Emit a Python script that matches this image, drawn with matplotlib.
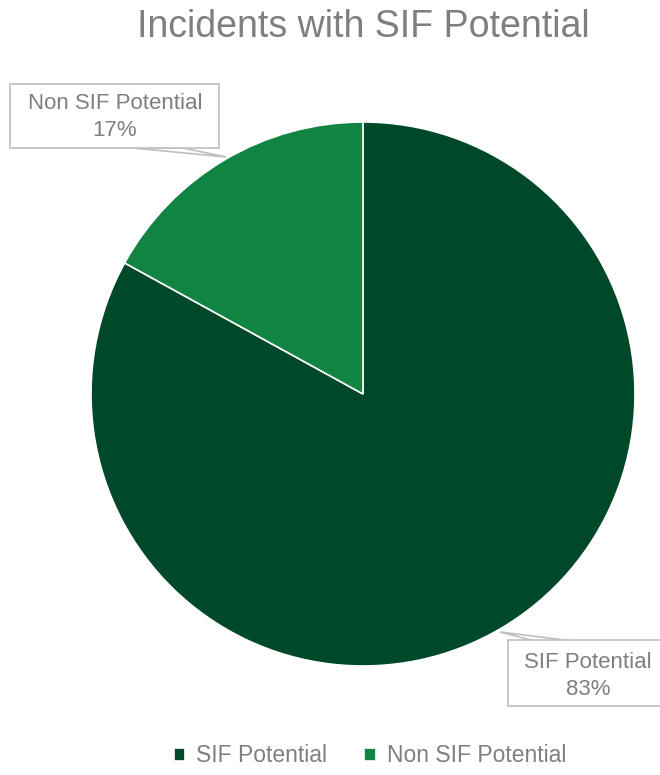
import matplotlib
matplotlib.use("Agg")
import matplotlib.pyplot as plt
from matplotlib.patches import Rectangle, Polygon

categories = ["SIF Potential", "Non SIF Potential"]
values = [83, 17]
colors = ["#00482A", "#118342"]
title = "Incidents with SIF Potential"

W, H = 660, 775
fig = plt.figure(figsize=(W / 100, H / 100), dpi=100)
plt.rcParams['font.family'] = ['Liberation Sans', 'DejaVu Sans']
GRAY = "#7F7F7F"

cx, cy, r = 363, 394, 272
ax = fig.add_axes([(cx - r) / W, (H - cy - r) / H, 2 * r / W, 2 * r / H])
wedges, _ = ax.pie(values, colors=colors, startangle=90, counterclock=False,
                   radius=1, wedgeprops=dict(edgecolor="white", linewidth=1.2))
ax.set_xlim(-1, 1)
ax.set_ylim(-1, 1)
ax.set_aspect('equal')
ax.axis('off')

fig.text(363 / W, 1 - 27 / H, title, ha='center', va='center', fontsize=27, color=GRAY)

def px(x, y):
    return (x / W, 1 - y / H)

# label boxes (pixel positions)
boxes = {
    0: dict(rect=(508, 640, 160, 66), text=(588, 676), tail=[(500, 632), (535, 641), (572, 641)]),
    1: dict(rect=(10, 84, 209, 64), text=(115, 117), tail=[(226, 157), (133, 148), (183, 148)]),
}
for i, (cat, val) in enumerate(zip(categories, values)):
    b = boxes[i]
    x0, y0, w, h = b['rect']
    fig.patches.append(Rectangle((x0 / W, 1 - (y0 + h) / H), w / W, h / H,
                                 transform=fig.transFigure, facecolor='white',
                                 edgecolor='#BFBFBF', linewidth=1.2, zorder=5))
    tail = [px(*p) for p in b['tail']]
    fig.patches.append(Polygon(tail, closed=True, transform=fig.transFigure,
                               facecolor='white', edgecolor='#BFBFBF', linewidth=1.2, zorder=4))
    fig.text(*px(*b['text']), f"{cat}\n{val}%", ha='center', va='center', fontsize=16,
             color=GRAY, linespacing=1.35, zorder=6)

leg = fig.legend(wedges, categories, loc='center', bbox_to_anchor=(370 / W, 1 - 756 / H),
                 ncol=2, frameon=False, fontsize=16.5, handlelength=0.5, handleheight=0.5,
                 handletextpad=0.5, columnspacing=1.6, labelcolor=GRAY)

fig.savefig("out.png", dpi=100)
